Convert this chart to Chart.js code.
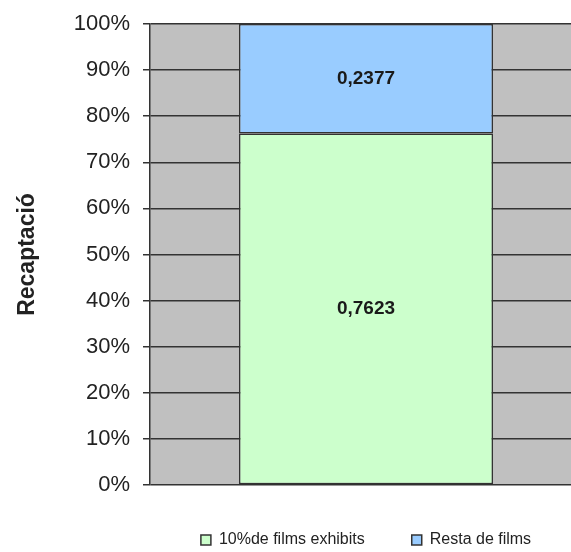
<!DOCTYPE html>
<html>
<head>
<meta charset="utf-8">
<script src="https://cdn.jsdelivr.net/npm/chart.js@4/dist/chart.umd.min.js"></script>
<style>
  html, body { margin: 0; padding: 0; background: #fff; overflow: hidden; }
  #wrap { width: 582px; height: 558px; }
</style>
</head>
<body>
<div id="wrap"><canvas id="recaptacio"></canvas></div>
<script>
// dades del gràfic
const categories = [''];
const seriesNames = ['10%de films exhibits', 'Resta de films'];
const topFilms = [0.7623];
const restFilms = [0.2377];
const yTicks = [0, 0.1, 0.2, 0.3, 0.4, 0.5, 0.6, 0.7, 0.8, 0.9, 1];

// fons gris de l'àrea del gràfic
const plotBackground = {
  id: 'plotBackground',
  beforeDraw(chart) {
    const { ctx, chartArea } = chart;
    ctx.save();
    ctx.fillStyle = '#c0c0c0';
    ctx.fillRect(chartArea.left, chartArea.top, chartArea.right - chartArea.left, chartArea.bottom - chartArea.top);
    ctx.restore();
  }
};

// etiquetes de valor al centre de cada segment
const valueLabels = {
  id: 'valueLabels',
  afterDatasetsDraw(chart) {
    const ctx = chart.ctx;
    ctx.save();
    ctx.font = 'bold 19px Arial, "Liberation Sans", sans-serif';
    ctx.fillStyle = '#1a1a1a';
    ctx.textAlign = 'center';
    ctx.textBaseline = 'middle';
    chart.data.datasets.forEach((ds, i) => {
      chart.getDatasetMeta(i).data.forEach((bar, j) => {
        const txt = String(ds.data[j]).replace('.', ',');
        ctx.fillText(txt, bar.x, (bar.y + bar.base) / 2);
      });
    });
    ctx.restore();
  }
};

const ctx = document.getElementById('recaptacio').getContext('2d');
new Chart(ctx, {
  type: 'bar',
  data: {
    labels: categories,
    datasets: [
      {
        label: seriesNames[0],
        data: topFilms,
        backgroundColor: '#ccffcc',
        borderColor: '#333333',
        borderWidth: 1.5,
        borderSkipped: false
      },
      {
        label: seriesNames[1],
        data: restFilms,
        backgroundColor: '#99ccff',
        borderColor: '#333333',
        borderWidth: 1.5,
        borderSkipped: false
      }
    ]
  },
  options: {
    responsive: true,
    maintainAspectRatio: false,
    animation: false,
    datasets: {
      bar: { barPercentage: 0.588, categoryPercentage: 1 }
    },
    layout: { padding: { top: 22, left: 0, right: 0, bottom: 0 } },
    scales: {
      x: {
        display: false,
        stacked: true
      },
      y: {
        stacked: true,
        min: 0,
        max: 1,
        afterBuildTicks(scale) {
          scale.ticks = yTicks.map(v => ({ value: v }));
        },
        afterFit(scale) {
          scale.width = 150;
        },
        ticks: {
          padding: 13,
          color: '#222',
          font: { family: 'Arial, "Liberation Sans", sans-serif', size: 22, lineHeight: 1 },
          callback: v => Math.round(v * 100) + '%'
        },
        grid: {
          color: '#333333',
          lineWidth: 1.5,
          tickLength: 7,
          tickColor: '#333333'
        },
        border: { color: '#333333', width: 1.5 },
        title: {
          display: true,
          text: 'Recaptació',
          color: '#222',
          padding: { top: 14, bottom: 0 },
          font: { family: 'Arial, "Liberation Sans", sans-serif', size: 23, weight: 'bold' }
        }
      }
    },
    plugins: {
      legend: {
        position: 'bottom',
        fullSize: false,
        labels: {
          boxWidth: 10,
          boxHeight: 10,
          padding: 47,
          color: '#222',
          font: { family: 'Arial, "Liberation Sans", sans-serif', size: 16 }
        }
      },
      tooltip: { enabled: false }
    }
  },
  plugins: [plotBackground, valueLabels]
});
</script>
</body>
</html>
